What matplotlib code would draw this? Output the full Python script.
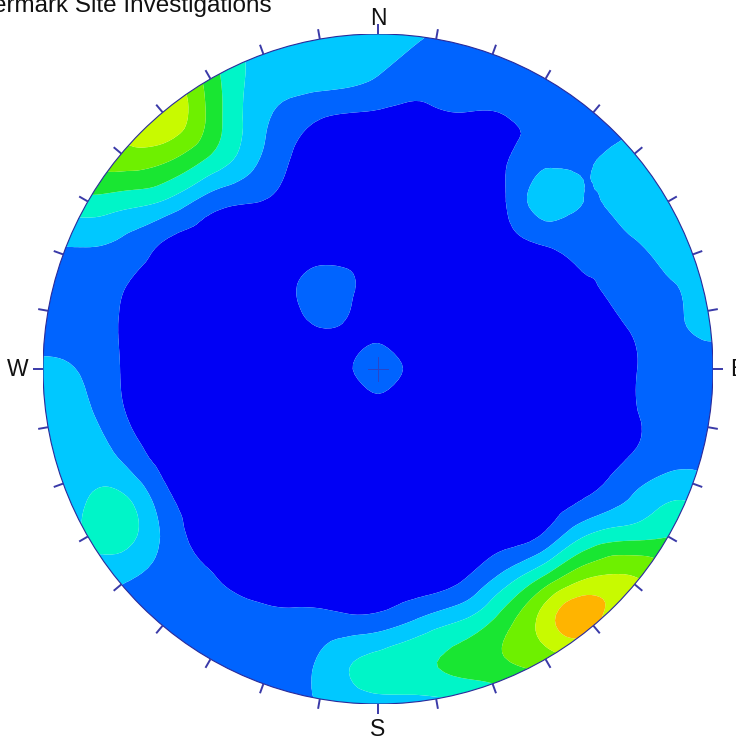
import numpy as np
import matplotlib.pyplot as plt
import matplotlib.tri as mtri
from matplotlib.patches import Circle
from matplotlib.colors import ListedColormap, BoundaryNorm

plt.rcParams['font.family'] = ['Liberation Sans', 'DejaVu Sans']

# pole density contour classes read off the stereonet on a 17 x 17 grid
# row 0 = north edge, column 0 = west edge (unit-circle coordinates)
grid_x = np.linspace(-1, 1, 17)
grid_y = np.linspace(1, -1, 17)
density = np.array([
    [5.5, 5.8, 5.8, 4.9, 3.2, 2.2, 2.0, 2.0, 2.0, 1.6, 1.0, 1.0, 1.0, 1.0, 1.0, 1.1, 1.3],
    [5.3, 5.7, 5.9, 5.8, 4.0, 2.3, 2.0, 2.0, 1.5, 0.95, 1.1, 1.1, 1.1, 1.1, 1.2, 1.3, 1.45],
    [4.8, 5.4, 5.9, 6.2, 4.2, 2.1, 0.95, 0.4, 0.3, 0.25, 0.4, 0.45, 0.9, 1.1, 1.3, 1.5, 2.0],
    [3.6, 4.7, 5.0, 4.6, 3.3, 1.77, 0.4, 0.1, 0.0, 0.0, 0.1, 0.4, 1.2, 1.4, 2.0, 2.0, 2.0],
    [2.5, 3.2, 2.9, 2.3, 1.0, 0.55, 0.1, 0.0, 0.0, 0.0, 0.0, 0.4, 2.0, 1.45, 2.2, 2.2, 2.0],
    [1.5, 1.6, 1.23, 0.35, 0.1, 0.0, 0.0, 0.0, 0.0, 0.0, 0.0, 0.2, 0.6, 1.0, 1.3, 2.0, 2.0],
    [1.1, 1.0, 0.5, 0.1, 0.0, 0.0, 0.45, 0.85, 0.0, 0.0, 0.0, 0.0, 0.2, 0.4, 1.0, 1.45, 2.0],
    [1.1, 1.0, 0.35, 0.0, 0.0, 0.0, 0.3, 0.5, 0.0, 0.0, 0.0, 0.0, 0.0, 0.1, 0.55, 1.3, 1.65],
    [1.7, 1.35, 0.35, 0.0, 0.0, 0.0, 0.0, 0.0, 0.95, 0.0, 0.0, 0.0, 0.0, 0.0, 0.35, 1.1, 1.3],
    [2.0, 1.7, 0.45, 0.0, 0.0, 0.0, 0.0, 0.0, 0.0, 0.0, 0.0, 0.0, 0.0, 0.0, 0.35, 1.0, 1.1],
    [2.1, 2.1, 1.1, 0.05, 0.0, 0.0, 0.0, 0.0, 0.0, 0.0, 0.0, 0.0, 0.0, 0.0, 0.45, 1.0, 1.1],
    [2.0, 2.4, 2.45, 0.6, 0.1, 0.0, 0.0, 0.0, 0.0, 0.0, 0.0, 0.0, 0.0, 0.45, 1.4, 2.3, 1.8],
    [2.0, 2.55, 2.8, 1.1, 0.2, 0.0, 0.0, 0.0, 0.0, 0.0, 0.0, 0.1, 0.75, 2.6, 3.2, 3.5, 3.0],
    [2.0, 2.0, 1.6, 1.0, 0.55, 0.2, 0.0, 0.0, 0.0, 0.0, 0.4, 1.9, 3.8, 5.5, 5.6, 5.0, 4.0],
    [2.0, 1.6, 1.2, 1.1, 0.8, 0.8, 0.75, 0.8, 0.85, 1.65, 2.5, 4.0, 6.0, 7.0, 5.4, 5.4, 4.6],
    [1.5, 1.1, 1.0, 1.1, 1.0, 0.95, 1.0, 2.1, 2.9, 3.3, 3.8, 4.4, 4.9, 5.4, 5.6, 5.8, 5.4],
    [1.0, 1.0, 1.0, 1.0, 1.0, 1.0, 1.2, 1.7, 2.0, 2.0, 2.2, 2.5, 3.5, 4.5, 5.0, 5.4, 5.7],
])

level_bounds = [-5, 0.5, 1.5, 2.5, 3.5, 4.5, 5.5, 6.5, 12]
level_colors = ['#0000f5', '#0064ff', '#00c8ff', '#00f5c8',
                '#19e632', '#6ef000', '#c8fa00', '#ffb400']

tick_azimuths = np.arange(0, 360, 10)
compass_labels = ['N', 'E', 'S', 'W']
compass_azimuths = [0, 90, 180, 270]
title_text = 'ermark Site Investigations'

fig = plt.figure(figsize=(7.36, 7.40), dpi=100)
ax = fig.add_axes([43 / 736, 36 / 740, 670 / 736, 670 / 740])
ax.set_xlim(-1, 1)
ax.set_ylim(-1, 1)
ax.axis('off')

# smooth the coarse grid with matplotlib's cubic triangulation refiner
X, Y = np.meshgrid(grid_x, grid_y)
tri = mtri.Triangulation(X.ravel(), Y.ravel())
refiner = mtri.UniformTriRefiner(tri)
tri_fine, dens_fine = refiner.refine_field(density.ravel(), subdiv=3)

cmap = ListedColormap(level_colors)
norm = BoundaryNorm(level_bounds, cmap.N)
cs = ax.tricontourf(tri_fine, dens_fine, levels=level_bounds, cmap=cmap,
                    norm=norm, antialiased=True)
rim = Circle((0, 0), 1, transform=ax.transData, facecolor='none')
cs.set_clip_path(rim)

# primitive circle outline
ax.add_patch(Circle((0, 0), 1, facecolor='none', edgecolor='#2a2a9a', lw=0.8))

# 10 degree ticks around the rim
for az in np.radians(tick_azimuths):
    ax.plot([np.sin(az), 1.03 * np.sin(az)], [np.cos(az), 1.03 * np.cos(az)],
            color='#3a3aa8', lw=1.4, clip_on=False, solid_capstyle='butt')

# centre cross
ax.plot([-0.03, 0.03], [0, 0], color='#2a46c8', lw=0.7)
ax.plot([0, 0], [-0.035, 0.035], color='#2a46c8', lw=0.7)

label_r = {'N': 1.047, 'E': 1.075, 'S': 1.075, 'W': 1.075}
for lab, az in zip(compass_labels, compass_azimuths):
    a = np.radians(az)
    r = label_r[lab]
    ax.text(r * np.sin(a), r * np.cos(a), lab, fontsize=16.5, ha='center',
            va='center', color='#111111', clip_on=False)

fig.text(-7 / 736, 1 - 12 / 740, title_text, fontsize=17.5, ha='left',
         va='baseline', color='#111111')

fig.savefig('out.png', dpi=100, facecolor='white')
